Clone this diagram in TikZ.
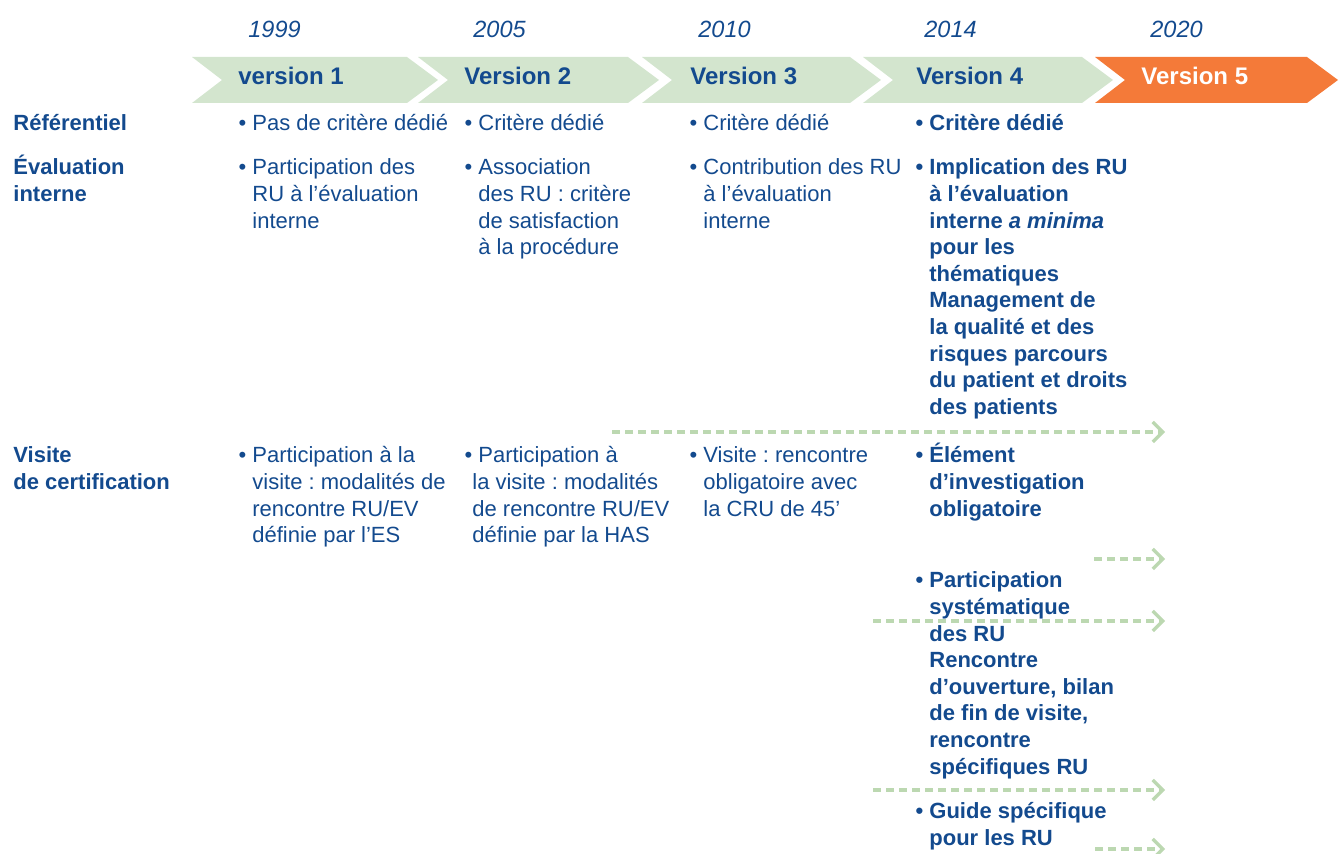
\documentclass[tikz,border=0pt]{standalone}
\usepackage{fontspec}
\setmainfont{Liberation Sans}
\usetikzlibrary{arrows.meta,positioning}
\definecolor{Ink}{HTML}{134A8E}
\definecolor{SageF}{HTML}{D3E5CE}
\definecolor{Sage}{HTML}{BCD8B1}
\definecolor{Tang}{HTML}{F47A39}
\frenchspacing
\newcommand{\itm}{\llap{•\ }}
\newcommand{\lines}[1]{\begin{tabular}[t]{@{}l@{}}#1\end{tabular}}
\begin{document}
\begin{tikzpicture}[x=0.5pt,y=-0.5pt,
    yr/.style={font=\fontsize{11.75}{14}\selectfont\itshape,text=Ink,anchor=base west,inner sep=0pt},
    ver/.style={font=\fontsize{12}{14}\selectfont\bfseries,text=Ink,anchor=base west,inner sep=0pt},
    cell/.style={font=\fontsize{11}{13.3}\selectfont,text=Ink,anchor=base west,inner sep=0pt},
    key/.style={cell,font=\fontsize{11}{13.3}\selectfont\bfseries},
    flow/.style={Sage,line width=1.6pt,dash pattern=on 4pt off 2.5pt,
      -{Straight Barb[length=5pt,width=10pt]}}]
  \useasboundingbox (0,0) rectangle (1339,854);
  % chevrons
  \foreach \l/\r/\c in {192/407/SageF,418/628/SageF,642/850/SageF,863/1082/SageF,1095/1307/Tang}
    \fill[\c] (\l,57) -- (\r,57) -- ({\r+31},80) -- (\r,103) -- (\l,103) -- ({\l+30},80) -- cycle;
  % years
  \node[yr] (y1) at (248,38) {1999};
  \node[yr] (y2) at (473,38) {2005};
  \node[yr] (y3) at (698,38) {2010};
  \node[yr] (y4) at (924,38) {2014};
  \node[yr] (y5) at (1150,38) {2020};
  % versions
  \node[ver] (v1) at (238,85) {version 1};
  \node[ver] (v2) at (464,85) {Version 2};
  \node[ver] (v3) at (690,85) {Version 3};
  \node[ver] (v4) at (916,85) {Version 4};
  \node[ver,text=white] (v5) at (1141,85) {Version 5};
  % row labels
  \node[key] (ref) at (13,131) {Référentiel};
  \node[key] (eval) at (13,175) {\lines{Évaluation\\interne}};
  \node[key] (visit) at (13,463) {\lines{Visite\\de certification}};
  % version 1
  \node[cell] (ref1) at (252,131) {\itm Pas de critère dédié};
  \node[cell] (eval1) at (252,175) {\lines{\itm Participation des\\RU à l’évaluation\\interne}};
  \node[cell] (visit1) at (252,463) {\lines{\itm Participation à la\\visite : modalités de\\rencontre RU/EV\\définie par l’ES}};
  % version 2
  \node[cell] (ref2) at (478,131) {\itm Critère dédié};
  \node[cell] (eval2) at (478,175) {\lines{\itm Association\\des RU : critère\\de satisfaction\\à la procédure}};
  \node[cell] (visit2) at (478,463) {\lines{\itm Participation à\\\hspace*{-3pt}la visite : modalités\\\hspace*{-3pt}de rencontre RU/EV\\\hspace*{-3pt}définie par la HAS}};
  % version 3
  \node[cell] (ref3) at (703,131) {\itm Critère dédié};
  \node[cell] (eval3) at (703,175) {\lines{\itm Contribution des RU\\à l’évaluation\\interne}};
  \node[cell] (visit3) at (703,463) {\lines{\itm Visite : rencontre\\obligatoire avec\\la CRU de 45’}};
  % version 4
  \node[key] (ref4) at (929,131) {\itm Critère dédié};
  \node[key] (eval4) at (929,175) {\lines{\itm Implication des RU\\à l’évaluation\\interne \textit{a minima}\\pour les\\thématiques\\Management de\\la qualité et des\\risques parcours\\du patient et droits\\des patients}};
  \node[key] (visit4) at (929,463) {\lines{\itm Élément\\d’investigation\\obligatoire}};
  \node[key] (part4) at (929,588) {\lines{\itm Participation\\systématique\\des RU\\Rencontre\\d’ouverture, bilan\\de fin de visite,\\rencontre\\spécifiques RU}};
  \node[key] (guide4) at (929,819) {\lines{\itm Guide spécifique\\pour les RU}};
  % dashed arrows
  \coordinate (s1) at (612,432);  \coordinate (e1) at (1165,432);
  \coordinate (s2) at (1094,559); \coordinate (e2) at (1165,559);
  \coordinate (s3) at (873,621);  \coordinate (e3) at (1165,621);
  \coordinate (s4) at (873,790);  \coordinate (e4) at (1165,790);
  \coordinate (s5) at (1095,849); \coordinate (e5) at (1165,849);
  \foreach \i in {1,...,5}
    \draw[flow] (s\i) -- (e\i);
\end{tikzpicture}
\end{document}
